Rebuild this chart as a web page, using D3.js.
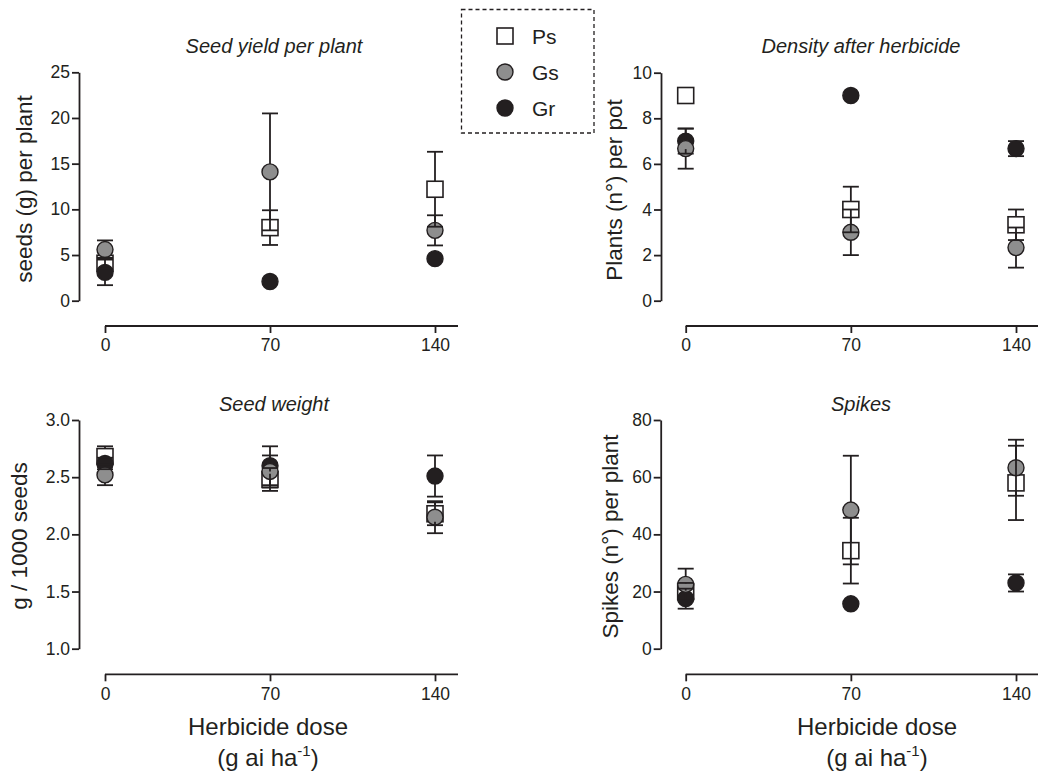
<!DOCTYPE html>
<html>
<head>
<meta charset="utf-8">
<script src="https://cdn.jsdelivr.net/npm/d3@7"></script>
<style>
  html, body { margin: 0; padding: 0; background: #fff; }
  svg { display: block; font-family: "Liberation Sans", Arial, sans-serif; }
</style>
</head>
<body>
<svg id="chart" width="1038" height="776"></svg>
<script>
// ---------- DATA ----------
const doses = [0, 70, 140];
const doseTicks = [0, 70, 140];
const seriesNames = ["Ps", "Gs", "Gr"];

// Seed yield per plant (g)
const yieldPs = [4.1, 8.0, 12.2];
const yieldPsErr = [0.6, 1.9, 4.1];
const yieldGs = [5.6, 14.1, 7.7];
const yieldGsErr = [1.0, 6.4, 1.65];
const yieldGr = [3.1, 2.1, 4.6];
const yieldGrErr = [1.4, 0, 0];
const yieldTicks = [0, 5, 10, 15, 20, 25];

// Density after herbicide (plants per pot)
const densPs = [9.0, 4.0, 3.33];
const densPsErr = [0, 1.0, 0.67];
const densGs = [6.67, 3.0, 2.33];
const densGsErr = [0.88, 1.0, 0.88];
const densGr = [7.0, 9.0, 6.67];
const densGrErr = [0.55, 0, 0.33];
const densTicks = [0, 2, 4, 6, 8, 10];

// Seed weight (g / 1000 seeds)
const wPs = [2.68, 2.48, 2.18];
const wPsErr = [0.09, 0.10, 0.10];
const wGs = [2.52, 2.55, 2.15];
const wGsErr = [0.09, 0.14, 0.14];
const wGr = [2.62, 2.60, 2.51];
const wGrErr = [0.05, 0.17, 0.18];
const wTicks = [1.0, 1.5, 2.0, 2.5, 3.0];

// Spikes per plant
const spPs = [20, 34.3, 58];
const spPsErr = [3, 11.5, 13];
const spGs = [22.5, 48.5, 63.3];
const spGsErr = [5.5, 19, 9.8];
const spGr = [17.5, 15.7, 23];
const spGrErr = [3.5, 0, 3];
const spTicks = [0, 20, 40, 60, 80];

// ---------- STYLE ----------
const INK = "#231f20";
const GRAY = "#8e8e8e";
const FONT_TICK = 17.5;
const FONT_YLAB = 22.5;
const FONT_XLAB = 24;
const FONT_TITLE = 20;
const R = 8;       // circle radius
const SQ = 16;     // square side
const CAP = 8;     // half cap width

const styles = {
  Ps: { shape: "square", fill: "#ffffff" },
  Gs: { shape: "circle", fill: GRAY },
  Gr: { shape: "circle", fill: INK }
};

const panels = [
  { title: "Seed yield per plant", ylabel: "seeds (g) per plant",
    yDomain: [0, 25], yTicks: yieldTicks, fmt: d3.format("d"),
    vals: { Ps: yieldPs, Gs: yieldGs, Gr: yieldGr },
    errs: { Ps: yieldPsErr, Gs: yieldGsErr, Gr: yieldGrErr },
    L: { ax: 79, top: 72.3, bottom: 300.7, xAxisY: 326, x0: 105, x1: 435,
         titleX: 274, titleY: 53, ylabX: 32, ylabY: 189, xlab: false } },
  { title: "Density after herbicide", ylabel: "Plants (n\u00B0) per pot",
    yDomain: [0, 10], yTicks: densTicks, fmt: d3.format("d"),
    vals: { Ps: densPs, Gs: densGs, Gr: densGr },
    errs: { Ps: densPsErr, Gs: densGsErr, Gr: densGrErr },
    L: { ax: 661, top: 72.7, bottom: 300.7, xAxisY: 326, x0: 685.7, x1: 1016,
         titleX: 861, titleY: 53, ylabX: 622, ylabY: 190, xlab: false } },
  { title: "Seed weight", ylabel: "g / 1000 seeds",
    yDomain: [1, 3], yTicks: wTicks, fmt: d3.format(".1f"),
    vals: { Ps: wPs, Gs: wGs, Gr: wGr },
    errs: { Ps: wPsErr, Gs: wGsErr, Gr: wGrErr },
    L: { ax: 79, top: 420, bottom: 648.7, xAxisY: 674.3, x0: 105, x1: 435,
         titleX: 274, titleY: 411, ylabX: 27, ylabY: 536, xlab: true, xlabX: 268 } },
  { title: "Spikes", ylabel: "Spikes (n\u00B0) per plant",
    yDomain: [0, 80], yTicks: spTicks, fmt: d3.format("d"),
    vals: { Ps: spPs, Gs: spGs, Gr: spGr },
    errs: { Ps: spPsErr, Gs: spGsErr, Gr: spGrErr },
    L: { ax: 660.7, top: 420, bottom: 648.7, xAxisY: 674.3, x0: 685.7, x1: 1016,
         titleX: 861, titleY: 411, ylabX: 618, ylabY: 536.5, xlab: true, xlabX: 877 } }
];

const svg = d3.select("#chart");

function drawMarker(g, shape, fill, cx, cy) {
  if (shape === "square") {
    g.append("rect").attr("x", cx - SQ / 2).attr("y", cy - SQ / 2)
      .attr("width", SQ).attr("height", SQ)
      .attr("fill", fill).attr("stroke", INK).attr("stroke-width", 1.6);
  } else {
    g.append("circle").attr("cx", cx).attr("cy", cy).attr("r", R)
      .attr("fill", fill).attr("stroke", INK).attr("stroke-width", 1.4);
  }
}

panels.forEach(p => {
  const L = p.L;
  const g = svg.append("g");
  const y = d3.scaleLinear().domain(p.yDomain).range([L.bottom, L.top]);
  const x = d3.scaleLinear().domain([0, 140]).range([L.x0, L.x1]);

  // Y axis
  const yAx = g.append("g").attr("transform", `translate(${L.ax},0)`)
    .call(d3.axisLeft(y).tickValues(p.yTicks).tickFormat(p.fmt)
      .tickSize(7).tickSizeOuter(0).tickPadding(2));
  yAx.selectAll("path, line").attr("stroke", INK).attr("stroke-width", 1.8);
  yAx.selectAll("text").attr("fill", INK).style("font-size", FONT_TICK + "px")
    .style("font-family", '"Liberation Sans", Arial, sans-serif');

  // X axis (offset below)
  const xAx = g.append("g").attr("transform", `translate(0,${L.xAxisY})`)
    .call(d3.axisBottom(x).tickValues(doseTicks).tickFormat(d3.format("d"))
      .tickSize(7).tickSizeOuter(0).tickPadding(6));
  xAx.select("path.domain").remove();
  xAx.append("line").attr("x1", x(0)).attr("x2", x(140) + 23)
    .attr("y1", 0).attr("y2", 0).attr("stroke", INK).attr("stroke-width", 1.8);
  xAx.selectAll("line").attr("stroke", INK).attr("stroke-width", 1.8);
  xAx.selectAll("text").attr("fill", INK).style("font-size", FONT_TICK + "px")
    .style("font-family", '"Liberation Sans", Arial, sans-serif');

  // Title
  g.append("text").attr("x", L.titleX).attr("y", L.titleY)
    .attr("text-anchor", "middle").attr("fill", INK)
    .style("font-size", FONT_TITLE + "px").style("font-style", "italic")
    .text(p.title);

  // Y label
  g.append("text").attr("transform", `translate(${L.ylabX},${L.ylabY}) rotate(-90)`)
    .attr("text-anchor", "middle").attr("fill", INK)
    .style("font-size", FONT_YLAB + "px").text(p.ylabel);

  // X label
  if (L.xlab) {
    g.append("text").attr("x", L.xlabX).attr("y", 735)
      .attr("text-anchor", "middle").attr("fill", INK)
      .style("font-size", FONT_XLAB + "px").text("Herbicide dose");
    const t = g.append("text").attr("x", L.xlabX).attr("y", 766)
      .attr("text-anchor", "middle").attr("fill", INK)
      .style("font-size", FONT_XLAB + "px");
    t.append("tspan").text("(g ai ha");
    t.append("tspan").attr("dy", -10).style("font-size", "15px").text("-1");
    t.append("tspan").attr("dy", 10).text(")");
  }

  // Markers (drawn first), order Ps, Gr, Gs
  const mg = g.append("g");
  ["Ps", "Gr", "Gs"].forEach(s => {
    p.vals[s].forEach((v, i) => {
      drawMarker(mg, styles[s].shape, styles[s].fill, x(doses[i]), y(v));
    });
  });

  // Error bars on top
  const eg = g.append("g").attr("stroke", INK).attr("stroke-width", 1.8).attr("fill", "none");
  ["Ps", "Gr", "Gs"].forEach(s => {
    p.vals[s].forEach((v, i) => {
      const e = p.errs[s][i];
      if (!e) return;
      const cx = x(doses[i]);
      const yTop = y(v + e), yBot = y(v - e);
      const mTop = y(v) - (styles[s].shape === "square" ? SQ / 2 : R);
      const mBot = y(v) + (styles[s].shape === "square" ? SQ / 2 : R);
      if (yTop < mTop) eg.append("line").attr("x1", cx).attr("x2", cx).attr("y1", yTop).attr("y2", mTop);
      if (yBot > mBot) eg.append("line").attr("x1", cx).attr("x2", cx).attr("y1", mBot).attr("y2", yBot);
      eg.append("line").attr("x1", cx - CAP).attr("x2", cx + CAP).attr("y1", yTop).attr("y2", yTop);
      eg.append("line").attr("x1", cx - CAP).attr("x2", cx + CAP).attr("y1", yBot).attr("y2", yBot);
    });
  });
});

// ---------- LEGEND ----------
const lg = svg.append("g");
lg.append("rect").attr("x", 461.5).attr("y", 9.5).attr("width", 132.5).attr("height", 123.5)
  .attr("fill", "none").attr("stroke", INK).attr("stroke-width", 1.3)
  .attr("stroke-dasharray", "4,3");
seriesNames.forEach((s, i) => {
  const cy = 36 + i * 36;
  drawMarker(lg, styles[s].shape, styles[s].fill, 505, cy);
  lg.append("text").attr("x", 532).attr("y", cy + 8).attr("fill", INK)
    .style("font-size", "21px").text(s);
});
</script>
</body>
</html>
